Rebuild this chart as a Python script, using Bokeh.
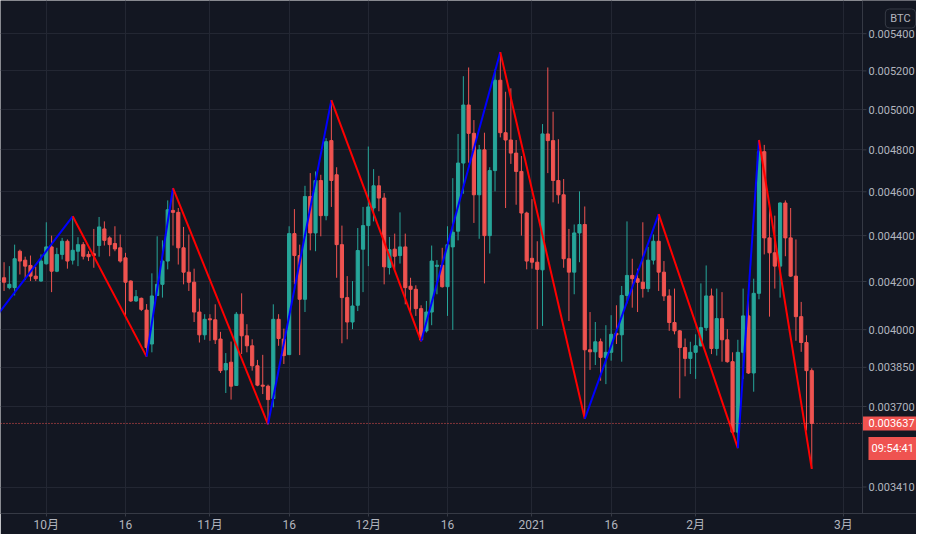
import numpy as np
import pandas as pd
from bokeh.plotting import figure
from bokeh.models import Range1d, FixedTicker, Span, ColumnDataSource
from bokeh.core.properties import value
from bokeh.embed import file_html
from bokeh.resources import INLINE

# ---- data (BTC pair, daily candles) ----
start_date = "2020-09-23"
end_date = "2021-02-23"

open_ = [0.004216, 0.004174, 0.004174, 0.004331, 0.004292, 0.004269, 0.004223, 0.004202, 0.004276, 0.004350,
         0.004244, 0.004317, 0.004375, 0.004292, 0.004331, 0.004360, 0.004317, 0.004320, 0.004356, 0.004430,
         0.004390, 0.004365, 0.004346, 0.004302, 0.004202, 0.004118, 0.004129, 0.004080, 0.003942, 0.004141,
         0.004188, 0.004288, 0.004514, 0.004505, 0.004346, 0.004240, 0.004197, 0.004072, 0.003979, 0.004044,
         0.004040, 0.003962, 0.003840, 0.003870, 0.003780, 0.004063, 0.003975, 0.003935, 0.003856, 0.003781,
         0.003777, 0.003730, 0.004042, 0.003962, 0.003900, 0.004409, 0.004312, 0.004125, 0.004578, 0.004412,
         0.004653, 0.004490, 0.004845, 0.004680, 0.004360, 0.004132, 0.004031, 0.004100, 0.004340, 0.004445,
         0.004525, 0.004628, 0.004571, 0.004260, 0.004340, 0.004312, 0.004350, 0.004180, 0.004167, 0.004086,
         0.003995, 0.004072, 0.004265, 0.004270, 0.004178, 0.004350, 0.004420, 0.004736, 0.005023, 0.004881,
         0.004586, 0.004800, 0.004400, 0.004700, 0.005151, 0.004884, 0.004848, 0.004784, 0.004696, 0.004502,
         0.004300, 0.004283, 0.004250, 0.004878, 0.004845, 0.004653, 0.004586, 0.004298, 0.004240, 0.004412,
         0.004450, 0.003919, 0.003911, 0.003951, 0.003889, 0.003909, 0.003985, 0.003979, 0.004141, 0.004226,
         0.004212, 0.004197, 0.004170, 0.004292, 0.004375, 0.004240, 0.004139, 0.004029, 0.003995, 0.003928,
         0.003885, 0.003909, 0.003935, 0.004008, 0.004139, 0.003924, 0.004045, 0.003959, 0.003872, 0.003605,
         0.003909, 0.004056, 0.003828, 0.004150, 0.004791, 0.004390, 0.004324, 0.004266, 0.004548, 0.004390,
         0.004223, 0.004053, 0.003948, 0.003837]

high = [0.004283, 0.004266, 0.004360, 0.004338, 0.004307, 0.004312, 0.004263, 0.004317, 0.004460, 0.004400,
        0.004346, 0.004390, 0.004383, 0.004487, 0.004393, 0.004371, 0.004331, 0.004430, 0.004484, 0.004464,
        0.004397, 0.004442, 0.004405, 0.004324, 0.004205, 0.004164, 0.004132, 0.004105, 0.004235, 0.004397,
        0.004379, 0.004560, 0.004617, 0.004525, 0.004439, 0.004405, 0.004255, 0.004128, 0.004063, 0.004063,
        0.004104, 0.003991, 0.003906, 0.003952, 0.004072, 0.004150, 0.004022, 0.003961, 0.003879, 0.003899,
        0.003783, 0.004104, 0.004063, 0.004004, 0.004442, 0.004520, 0.004360, 0.004628, 0.004688, 0.004696,
        0.004680, 0.004857, 0.005048, 0.004716, 0.004445, 0.004223, 0.004202, 0.004434, 0.004530, 0.004816,
        0.004707, 0.004675, 0.004594, 0.004394, 0.004409, 0.004505, 0.004409, 0.004216, 0.004184, 0.004100,
        0.004118, 0.004356, 0.004292, 0.004346, 0.004442, 0.004664, 0.004878, 0.005172, 0.005218, 0.004947,
        0.004824, 0.004884, 0.004716, 0.005207, 0.005300, 0.005091, 0.005109, 0.004848, 0.004770, 0.004508,
        0.004566, 0.004375, 0.004927, 0.005218, 0.004989, 0.004852, 0.004660, 0.004430, 0.004450, 0.004602,
        0.004532, 0.004072, 0.004031, 0.003964, 0.004018, 0.004059, 0.004100, 0.004181, 0.004464, 0.004298,
        0.004255, 0.004460, 0.004350, 0.004405, 0.004497, 0.004288, 0.004167, 0.004170, 0.003998, 0.003964,
        0.003951, 0.003981, 0.004192, 0.004269, 0.004170, 0.004170, 0.004155, 0.004002, 0.003909, 0.003959,
        0.004170, 0.004146, 0.004212, 0.004848, 0.004824, 0.004530, 0.004490, 0.004551, 0.004560, 0.004525,
        0.004383, 0.004114, 0.003977, 0.003846]

low = [0.004160, 0.004167, 0.004141, 0.004230, 0.004206, 0.004202, 0.004202, 0.004199, 0.004273, 0.004155,
       0.004240, 0.004295, 0.004255, 0.004273, 0.004266, 0.004295, 0.004288, 0.004259, 0.004307, 0.004356,
       0.004309, 0.004331, 0.004281, 0.004056, 0.004114, 0.004114, 0.004076, 0.003892, 0.003909, 0.004139,
       0.004132, 0.004252, 0.004356, 0.004273, 0.004188, 0.004160, 0.004031, 0.003948, 0.003959, 0.003955,
       0.003942, 0.003828, 0.003751, 0.003726, 0.003778, 0.003902, 0.003909, 0.003837, 0.003777, 0.003747,
       0.003634, 0.003697, 0.003935, 0.003863, 0.003898, 0.004188, 0.003898, 0.004072, 0.004335, 0.004331,
       0.004397, 0.004469, 0.004530, 0.004216, 0.003945, 0.003961, 0.004002, 0.004076, 0.004155, 0.004266,
       0.004464, 0.004510, 0.004188, 0.004230, 0.004252, 0.004277, 0.004104, 0.004070, 0.004056, 0.003953,
       0.003988, 0.004018, 0.004146, 0.004174, 0.004056, 0.003999, 0.004379, 0.004591, 0.004738, 0.004457,
       0.004386, 0.004192, 0.004321, 0.004602, 0.004861, 0.004525, 0.004732, 0.004540, 0.004400, 0.004252,
       0.004255, 0.004002, 0.004015, 0.004688, 0.004551, 0.004545, 0.004259, 0.004035, 0.004146, 0.004283,
       0.003654, 0.003840, 0.003859, 0.003798, 0.003785, 0.003876, 0.003942, 0.003872, 0.004108, 0.004090,
       0.004072, 0.004132, 0.004155, 0.004273, 0.004160, 0.004118, 0.003995, 0.003981, 0.003731, 0.003815,
       0.003824, 0.003805, 0.003932, 0.003995, 0.003902, 0.003896, 0.003872, 0.003868, 0.003603, 0.003547,
       0.003805, 0.003824, 0.003756, 0.004125, 0.004317, 0.004053, 0.004170, 0.004132, 0.004309, 0.004220,
       0.003955, 0.003911, 0.003611, 0.003473]

close = [0.004197, 0.004188, 0.004298, 0.004288, 0.004266, 0.004223, 0.004212, 0.004288, 0.004350, 0.004244,
         0.004317, 0.004375, 0.004288, 0.004335, 0.004360, 0.004309, 0.004307, 0.004312, 0.004439, 0.004379,
         0.004360, 0.004341, 0.004288, 0.004197, 0.004118, 0.004136, 0.004083, 0.003928, 0.004139, 0.004188,
         0.004288, 0.004517, 0.004505, 0.004346, 0.004240, 0.004197, 0.004072, 0.003979, 0.004042, 0.004040,
         0.003959, 0.003837, 0.003865, 0.003777, 0.004063, 0.003975, 0.003935, 0.003856, 0.003781, 0.003777,
         0.003726, 0.004042, 0.003964, 0.003896, 0.004409, 0.004312, 0.004125, 0.004578, 0.004412, 0.004653,
         0.004490, 0.004840, 0.004653, 0.004360, 0.004132, 0.004031, 0.004097, 0.004334, 0.004445, 0.004530,
         0.004628, 0.004571, 0.004263, 0.004338, 0.004309, 0.004350, 0.004174, 0.004167, 0.004086, 0.003959,
         0.004072, 0.004288, 0.004270, 0.004178, 0.004360, 0.004415, 0.004736, 0.005023, 0.004881, 0.004586,
         0.004800, 0.004400, 0.004700, 0.005151, 0.004884, 0.004848, 0.004784, 0.004696, 0.004502, 0.004288,
         0.004283, 0.004252, 0.004878, 0.004845, 0.004653, 0.004586, 0.004298, 0.004240, 0.004412, 0.004450,
         0.003919, 0.003911, 0.003951, 0.003889, 0.003909, 0.003981, 0.003979, 0.004141, 0.004226, 0.004212,
         0.004197, 0.004170, 0.004292, 0.004375, 0.004240, 0.004139, 0.004029, 0.003995, 0.003928, 0.003885,
         0.003909, 0.003935, 0.004008, 0.004139, 0.003924, 0.004045, 0.003959, 0.003872, 0.003605, 0.003909,
         0.004056, 0.003828, 0.004150, 0.004791, 0.004390, 0.004324, 0.004266, 0.004548, 0.004390, 0.004223,
         0.004053, 0.003948, 0.003837, 0.003637]

# zigzag pivots
zz_dates = ["2020-09-19", "2020-10-06", "2020-10-20", "2020-10-25", "2020-11-12", "2020-11-24",
            "2020-12-11", "2020-12-26", "2021-01-11", "2021-01-25", "2021-02-09", "2021-02-13", "2021-02-23"]
zz_values = [0.003982, 0.004487, 0.003892, 0.004617, 0.003634, 0.005048,
             0.003953, 0.005300, 0.003654, 0.004497, 0.003547, 0.004848, 0.003473]

tick_dates = ["2020-10-01", "2020-10-16", "2020-11-01", "2020-11-16", "2020-12-01",
              "2020-12-16", "2021-01-01", "2021-01-16", "2021-02-01", "2021-03-01"]
tick_labels = ["10月", "16", "11月", "16", "12月", "16", "2021", "16", "2月", "3月"]
price_ticks = [0.00341, 0.0037, 0.00385, 0.0040, 0.0042, 0.0044, 0.0046, 0.0048, 0.0050, 0.0052, 0.0054]
last_price = 0.003637
countdown = "09:54:41"
symbol_unit = "BTC"

# ---- styling ----
BG = "#131722"
UP = "#26a69a"
DOWN = "#ef5350"
GRID = "#232733"
AXIS = "#363a45"
TXT = "#b2b5be"

origin = pd.Timestamp("2020-10-01")
dates = pd.date_range(start_date, end_date, freq="D")
x = [(d - origin).days for d in dates]

colors = [UP if c >= o else DOWN for o, c in zip(open_, close)]
src = ColumnDataSource(dict(
    x=x, open=open_, high=high, low=low, close=close,
    top=[max(o, c) for o, c in zip(open_, close)],
    bottom=[min(o, c) for o, c in zip(open_, close)],
    color=colors,
))

# view window (days from 1 Oct 2020); the price scale lives right of `scale_edge`
x_start, x_end = -8.676, 164.84
scale_edge = 154.61
y_start, y_end = 0.0033196, 0.0055847

p = figure(width=916, height=534, output_backend="svg", toolbar_location=None,
           y_axis_type="log", y_axis_location=None,
           x_range=Range1d(x_start, x_end), y_range=Range1d(y_start, y_end),
           background_fill_color=BG, border_fill_color=BG,
           min_border_left=0, min_border_right=0, min_border_top=0, min_border_bottom=19,
           outline_line_color=None)

# candles
p.segment(x0="x", y0="low", x1="x", y1="high", line_color="color", line_width=1, source=src)
p.vbar(x="x", width=0.6, top="top", bottom="bottom", fill_color="color", line_color="color",
       line_width=1, source=src)

# zigzag
zz_x = [(pd.Timestamp(d) - origin).days for d in zz_dates]
zz_src = ColumnDataSource(dict(
    x0=zz_x[:-1], y0=zz_values[:-1], x1=zz_x[1:], y1=zz_values[1:],
    color=["#0000ff" if b > a else "#ff0000" for a, b in zip(zz_values[:-1], zz_values[1:])],
))
p.segment(x0="x0", y0="y0", x1="x1", y1="y1", line_color="color", line_width=2, source=zz_src)

# last price line (dotted, to the left of the price scale)
p.ray(x=[scale_edge], y=[last_price], length=0, angle=np.pi, line_color=DOWN, line_width=1,
      line_dash="1 2")

# price scale panel
p.quad(left=[scale_edge], right=[x_end], bottom=[y_start], top=[y_end], fill_color=BG, line_color=None)
p.add_layout(Span(location=scale_edge, dimension="height", line_color=AXIS, line_width=1))
p.ray(x=[scale_edge] * len(price_ticks), y=price_ticks, length=4, length_units="screen", angle=0,
      line_color=AXIS, line_width=1)
p.text(x=[scale_edge] * len(price_ticks), y=price_ticks, text=[f"{v:.6f}" for v in price_ticks],
       x_offset=6, text_align="left", text_baseline="middle", text_color=TXT,
       text_font=value("Roboto"), text_font_size="11px")

# last price tag and countdown
p.text(x=[scale_edge], y=[last_price], text=[f"{last_price:.6f}"], x_offset=0,
       text_align="left", text_baseline="middle", text_color="#ffffff",
       text_font=value("Roboto"), text_font_size="11px",
       background_fill_color=DOWN, padding=(6, 3))
p.text(x=[scale_edge], y=[last_price], text=[countdown], x_offset=6, y_offset=25,
       text_align="left", text_baseline="middle", text_color="#ffffff",
       text_font=value("Roboto"), text_font_size="11px",
       background_fill_color=DOWN, padding=(3, 5))
# unit badge
p.text(x=[scale_edge], y=[y_end], text=[symbol_unit], x_offset=38, y_offset=18,
       text_align="center", text_baseline="middle", text_color=TXT,
       text_font=value("Roboto"), text_font_size="11px",
       background_fill_color=BG, border_line_color=AXIS, padding=(5, 3), border_radius=4)

# time axis
tick_x = [(pd.Timestamp(d) - origin).days for d in tick_dates]
xa = p.xaxis[0]
xa.ticker = FixedTicker(ticks=tick_x, minor_ticks=[])
xa.major_label_overrides = {t: lab for t, lab in zip(tick_x, tick_labels)}
xa.major_label_text_font = "Roboto, Noto Sans CJK SC"
xa.major_label_text_font_size = "12px"
xa.major_label_text_color = TXT
xa.axis_line_color = AXIS
xa.major_tick_line_color = AXIS
xa.major_tick_out = 3
xa.major_tick_in = 0
xa.minor_tick_line_color = None
xa.major_label_standoff = 1

p.xgrid.ticker = FixedTicker(ticks=tick_x, minor_ticks=[])
p.ygrid.ticker = FixedTicker(ticks=price_ticks, minor_ticks=[])
p.xgrid.grid_line_color = GRID
p.ygrid.grid_line_color = GRID

open("out.html", "w").write(file_html(p, INLINE))
